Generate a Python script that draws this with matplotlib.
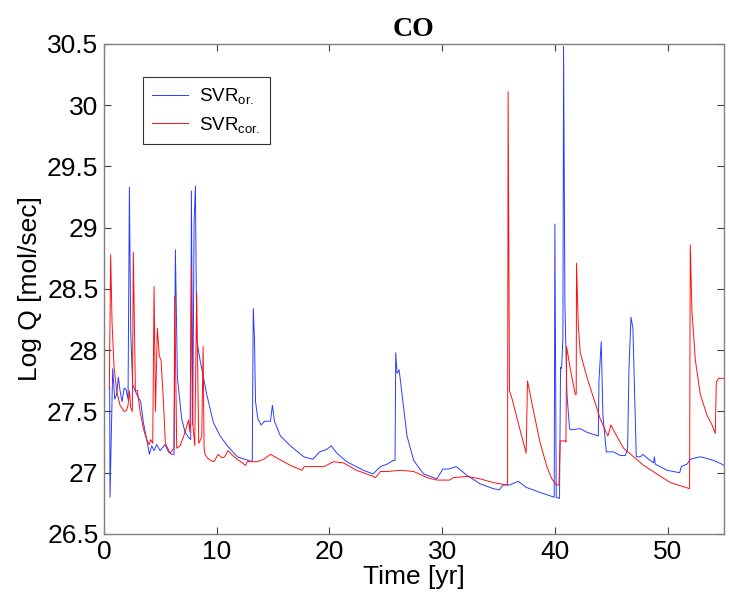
import matplotlib
matplotlib.use("Agg")
import matplotlib.pyplot as plt

# SVR_or. (blue)
blue_t = [0.50, 0.53, 0.77, 0.95, 1.12, 1.27, 1.42, 1.60, 1.78, 1.95, 2.13, 2.25, 2.37, 2.54, 2.90,
          3.25, 3.49, 3.79, 4.02, 4.23, 4.44, 4.67, 4.97, 5.41, 5.71, 6.01, 6.21, 6.33, 6.51, 6.89,
          7.19, 7.49, 7.69, 7.75, 7.87, 7.99, 8.11, 8.22, 8.52, 9.11, 9.70, 10.30, 10.94, 11.82,
          13.15, 13.24, 13.35, 13.44, 13.65, 13.94, 14.24, 14.76, 14.94, 15.12, 15.65, 16.53,
          17.71, 18.53, 19.12, 19.76, 20.15, 20.65, 21.53, 23.00, 23.88, 24.09, 24.53, 25.12,
          25.65, 25.82, 25.88, 26.00, 26.18, 26.44, 26.88, 27.47, 28.35, 29.53, 30.06, 30.56,
          31.24, 32.18, 33.35, 34.53, 35.06, 35.41, 36.00, 36.74, 37.47, 38.65, 39.94, 40.00,
          40.12, 40.41, 40.50, 40.59, 40.71, 40.77, 40.83, 40.89, 41.07, 41.30, 41.42, 42.25,
          42.84, 43.85, 43.91, 44.11, 44.26, 44.56, 45.21, 45.80, 46.24, 46.45, 46.57, 46.75,
          46.92, 47.22, 47.57, 47.81, 48.17, 48.76, 48.82, 48.91, 49.94, 51.07, 51.21, 51.72,
          52.01, 52.90, 53.35, 54.08, 54.82, 55.00]
blue_q = [27.70, 26.80, 27.85, 27.60, 27.64, 27.78, 27.67, 27.58, 27.69, 27.68, 27.60, 29.33, 28.14, 27.72, 27.64,
          27.58, 27.41, 27.27, 27.15, 27.22, 27.18, 27.23, 27.18, 27.23, 27.17, 27.15, 27.15, 28.82, 27.78, 27.44,
          27.33, 27.29, 27.27, 29.30, 27.39, 29.04, 29.34, 28.09, 27.92, 27.64, 27.41, 27.30, 27.22, 27.13,
          27.09, 28.34, 28.09, 27.58, 27.44, 27.39, 27.42, 27.42, 27.55, 27.42, 27.30, 27.22,
          27.13, 27.11, 27.17, 27.19, 27.22, 27.16, 27.09, 27.02, 26.99, 27.01, 27.05, 27.07,
          27.10, 27.10, 27.98, 27.81, 27.84, 27.64, 27.30, 27.10, 26.99, 26.95, 27.03, 27.03,
          27.05, 26.98, 26.91, 26.87, 26.86, 26.90, 26.90, 26.93, 26.88, 26.84, 26.80, 29.03,
          26.80, 26.79, 27.86, 27.85, 28.09, 30.48, 29.44, 28.37, 27.64, 27.36, 27.35, 27.36,
          27.33, 27.30, 27.75, 28.07, 27.47, 27.17, 27.17, 27.14, 27.14, 27.19, 27.84, 28.27,
          28.18, 27.13, 27.13, 27.15, 27.12, 27.08, 27.13, 27.07, 27.02, 27.00, 27.05, 27.07,
          27.11, 27.13, 27.12, 27.10, 27.07, 27.06]

# SVR_cor. (red)
red_t = [0.47, 0.59, 0.71, 0.89, 1.12, 1.42, 1.78, 2.01, 2.13, 2.25, 2.37, 2.51, 2.60, 2.78, 2.96,
         3.20, 3.49, 3.79, 4.02, 4.14, 4.32, 4.44, 4.56, 4.73, 4.91, 5.06, 5.27, 5.44, 5.86, 6.21,
         6.27, 6.45, 6.75, 7.19, 7.49, 7.63, 7.75, 7.87, 8.05, 8.22, 8.40, 8.67, 8.79, 8.88, 8.96,
         9.18, 9.47, 9.76, 10.12, 10.50, 10.70, 11.00, 11.53, 12.56, 12.71, 13.59, 14.18, 14.76,
         15.35, 16.53, 17.56, 17.76, 18.59, 19.53, 20.35, 21.24, 22.41, 23.88, 24.09, 24.53,
         25.12, 26.29, 27.47, 28.65, 29.53, 30.65, 31.00, 32.18, 33.35, 34.53, 35.71, 35.80,
         35.85, 35.97, 36.18, 36.88, 37.45, 37.57, 38.11, 38.70, 39.29, 39.73, 40.12, 40.36,
         40.47, 40.92, 40.98, 41.04, 41.36, 41.80, 41.89, 41.92, 42.07, 42.25, 42.84, 43.43,
         44.02, 44.70, 44.97, 45.36, 46.09, 46.98, 47.87, 49.05, 50.24, 51.27, 51.95, 52.01,
         52.16, 52.46, 52.90, 53.49, 53.94, 54.23, 54.32, 54.53, 55.00]
red_q = [27.68, 28.78, 28.23, 27.86, 27.67, 27.55, 27.50, 27.51, 27.55, 27.67, 27.53, 27.50, 28.80, 27.67, 27.67,
         27.50, 27.36, 27.27, 27.23, 27.27, 27.24, 28.52, 27.50, 28.18, 27.95, 27.92, 27.58, 27.24, 27.16, 27.20,
         28.44, 27.20, 27.22, 27.33, 27.43, 27.33, 28.69, 27.41, 27.22, 28.47, 27.24, 27.29, 28.03, 27.20, 27.15,
         27.12, 27.10, 27.09, 27.15, 27.12, 27.13, 27.18, 27.13, 27.06, 27.09, 27.09, 27.11, 27.15,
         27.12, 27.06, 27.02, 27.05, 27.05, 27.05, 27.09, 27.08, 27.02, 26.97, 26.96, 27.01,
         27.01, 27.02, 27.01, 26.96, 26.94, 26.94, 26.96, 26.97, 26.95, 26.92, 26.90, 26.90,
         30.11, 27.67, 27.61, 27.36, 27.16, 27.75, 27.50, 27.24, 27.05, 26.95, 26.90, 26.90,
         27.26, 27.26, 27.25, 28.03, 27.85, 27.64, 27.64, 28.71, 28.21, 27.98, 27.78, 27.61,
         27.44, 27.30, 27.39, 27.32, 27.20, 27.13, 27.06, 26.99, 26.92, 26.89, 26.87, 28.86,
         28.32, 27.92, 27.64, 27.47, 27.39, 27.32, 27.74, 27.77, 27.77]

x_ticks = [0, 10, 20, 30, 40, 50]
y_ticks = [26.5, 27, 27.5, 28, 28.5, 29, 29.5, 30, 30.5]
y_tick_labels = ["26.5", "27", "27.5", "28", "28.5", "29", "29.5", "30", "30.5"]

plt.rcParams['font.family'] = ['Liberation Sans', 'DejaVu Sans']
plt.rcParams['mathtext.fontset'] = 'custom'
plt.rcParams['mathtext.rm'] = 'Liberation Sans'
plt.rcParams['mathtext.it'] = 'Liberation Sans'

fig = plt.figure(figsize=(7.29, 6.02), dpi=100)
ax = fig.add_axes([0.1427, 0.113, 0.8504, 0.814])

ax.plot(blue_t, blue_q, color='#2a3cff', lw=0.7, label=r'SVR$_{\mathrm{or.}}$')
ax.plot(red_t, red_q, color='#ff1010', lw=0.7, label=r'SVR$_{\mathrm{cor.}}$')

ax.set_xlim(0, 55)
ax.set_ylim(26.5, 30.5)
ax.set_xticks(x_ticks)
ax.set_yticks(y_ticks)
ax.set_yticklabels(y_tick_labels)

# matlab-ish axes: grey box, ticks inside on every side
for sp in ax.spines.values():
    sp.set_color('#808080')
    sp.set_linewidth(1.0)
ax.tick_params(direction='in', length=5, width=0.8, color='#404040',
               top=True, right=True, labelsize=19, pad=4)

ax.set_xlabel('Time [yr]', fontsize=19, labelpad=1)
ax.set_ylabel('Log Q [mol/sec]', fontsize=19, labelpad=4)
ax.set_title('CO', fontsize=20, fontweight='bold', family='Liberation Serif', pad=6)

leg = ax.legend(loc='upper left', bbox_to_anchor=(0.063, 0.933), fontsize=13.5,
                frameon=True, fancybox=False, borderaxespad=0, handlelength=1.9,
                handletextpad=0.6, labelspacing=0.45, borderpad=0.5)
leg.get_frame().set_edgecolor('black')
leg.get_frame().set_linewidth(0.8)

fig.savefig('out.png', dpi=100)
